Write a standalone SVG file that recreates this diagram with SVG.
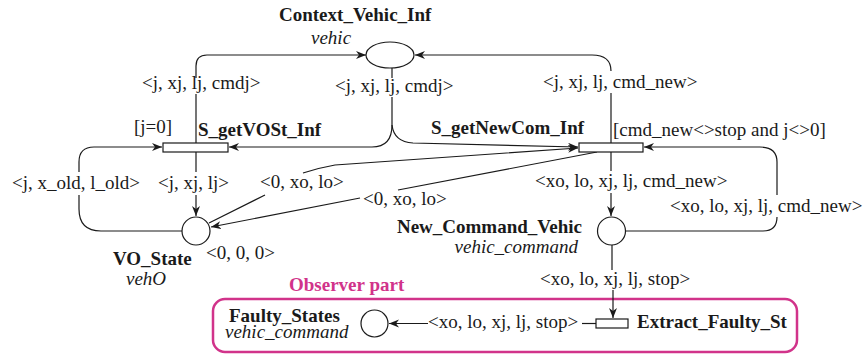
<svg xmlns="http://www.w3.org/2000/svg" width="867" height="356" viewBox="0 0 867 356">
<defs>
<marker id="ah" markerWidth="11" markerHeight="9" refX="10" refY="4" orient="auto" markerUnits="userSpaceOnUse">
<path d="M0,0 L10,4 L0,8 L3,4 z" fill="#1a1a1a"/>
</marker>
<style>
text{font-family:"Liberation Serif","Times New Roman",serif;font-size:19px;fill:#1a1a1a}
.b{font-weight:bold}
.i{font-style:italic}
.m{fill:#d1338a}
.place{fill:#fff;stroke:#1a1a1a;stroke-width:1.2}
.tr{fill:#fff;stroke:#1a1a1a;stroke-width:1.2}
.c path{fill:none;stroke:#1a1a1a;stroke-width:1.2}
.c path.a{marker-end:url(#ah)}
</style>
</defs>
<rect width="867" height="356" fill="#fff"/>

<rect id="observer-box" x="213" y="299" width="584" height="53" rx="12" fill="none" stroke="#d1338a" stroke-width="2.5"/>
<text class="b m" x="289" y="291">Observer part</text>

<g class="c" id="connectors">
<!-- S_getVOSt_Inf -> Context_Vehic_Inf -->
<path d="M196,143 L196,94"/>
<path class="a" d="M196,78 L196,66 Q196,55 207,55 L366,55"/>
<!-- Context_Vehic_Inf -> both transitions -->
<path d="M392,68 L392,78"/>
<path d="M392,97 L392,125"/>
<path class="a" d="M392,125 Q392,147 372,147 L229,147"/>
<path class="a" d="M392,125 Q394,142 413,143 L578,147"/>
<!-- S_getNewCom_Inf -> Context_Vehic_Inf -->
<path d="M611,143 L611,93"/>
<path class="a" d="M611,71 Q611,55 592,55 L415,55"/>
<!-- VO_State -> S_getVOSt_Inf -->
<path d="M182,231 L101,231 Q79,231 79,209 L79,195"/>
<path class="a" d="M79,172 L79,162 Q79,147 94,147 L162,147"/>
<!-- S_getVOSt_Inf -> VO_State -->
<path d="M196,152 L196,172"/>
<path class="a" d="M196,195 L196,216"/>
<!-- VO_State -> S_getNewCom_Inf -->
<path d="M209,223 L265,195"/>
<path class="a" d="M303,173 Q318,168 335,165 L578,148"/>
<!-- S_getNewCom_Inf -> VO_State -->
<path d="M597,152 L398,190"/>
<path class="a" d="M360,198 L211,227"/>
<!-- S_getNewCom_Inf -> New_Command_Vehic -->
<path d="M611,152 L611,171"/>
<path class="a" d="M611,193 L611,216"/>
<!-- New_Command_Vehic -> S_getNewCom_Inf -->
<path d="M626,231 L763,231 Q777,231 777,217"/>
<path class="a" d="M777,195 L777,162 Q777,147 760,147 L644,147"/>
<!-- New_Command_Vehic -> Extract_Faulty_St -->
<path d="M612,245 L612,270"/>
<path class="a" d="M613,290 L613,318"/>
<!-- Extract_Faulty_St -> Faulty_States -->
<path d="M596,323.5 L582,323.5"/>
<path class="a" d="M428,323.5 L389,323.5"/>
</g>

<g id="arc-labels">
<text x="142" y="89">&lt;j, xj, lj, cmdj&gt;</text>
<text x="335" y="92">&lt;j, xj, lj, cmdj&gt;</text>
<text x="543" y="88">&lt;j, xj, lj, cmd_new&gt;</text>
<text x="12" y="189">&lt;j, x_old, l_old&gt;</text>
<text x="158" y="189">&lt;j, xj, lj&gt;</text>
<text x="260" y="188">&lt;0, xo, lo&gt;</text>
<text x="363" y="205">&lt;0, xo, lo&gt;</text>
<text x="535" y="187">&lt;xo, lo, xj, lj, cmd_new&gt;</text>
<text x="670" y="212">&lt;xo, lo, xj, lj, cmd_new&gt;</text>
<text x="540" y="285">&lt;xo, lo, xj, lj, stop&gt;</text>
<text x="428" y="328">&lt;xo, lo, xj, lj, stop&gt;</text>
</g>

<g id="Context_Vehic_Inf">
<ellipse class="place" cx="390" cy="55" rx="24" ry="13"/>
<text class="b" x="279" y="21">Context_Vehic_Inf</text>
<text class="i" x="311" y="44">vehic</text>
</g>

<g id="S_getVOSt_Inf">
<rect class="tr" x="163" y="143" width="65" height="9"/>
<text class="b" x="198" y="136">S_getVOSt_Inf</text>
<text x="134" y="133">[j=0]</text>
</g>

<g id="S_getNewCom_Inf">
<rect class="tr" x="579" y="143" width="64" height="9"/>
<text class="b" x="431" y="134">S_getNewCom_Inf</text>
<text x="613" y="136">[cmd_new&lt;&gt;stop and j&lt;&gt;0]</text>
</g>

<g id="VO_State">
<circle class="place" cx="196" cy="231" r="14"/>
<text class="b" x="113" y="265">VO_State</text>
<text class="i" x="126" y="285">vehO</text>
<text x="206" y="259">&lt;0, 0, 0&gt;</text>
</g>

<g id="New_Command_Vehic">
<circle class="place" cx="611.5" cy="231" r="14"/>
<text class="b" x="582" y="233" text-anchor="end">New_Command_Vehic</text>
<text class="i" x="578" y="253" text-anchor="end">vehic_command</text>
</g>

<g id="Faulty_States">
<circle class="place" cx="374.5" cy="323.5" r="13.5"/>
<text class="b" x="229" y="322">Faulty_States</text>
<text class="i" x="225" y="338">vehic_command</text>
</g>

<g id="Extract_Faulty_St">
<rect class="tr" x="596" y="319" width="32" height="9"/>
<text class="b" x="637" y="328">Extract_Faulty_St</text>
</g>
</svg>
